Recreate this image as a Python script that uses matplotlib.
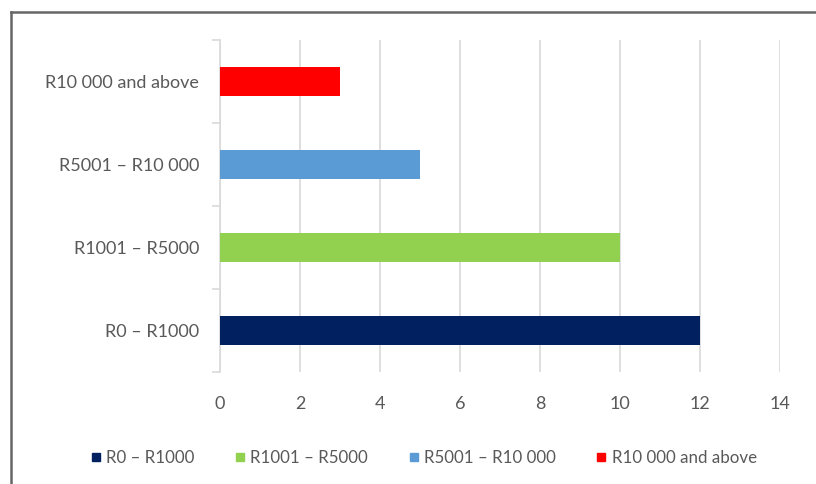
import matplotlib
matplotlib.use("Agg")
import matplotlib.pyplot as plt
from matplotlib.lines import Line2D

plt.rcParams["font.family"] = ["Lato", "DejaVu Sans"]

categories = ["R0 – R1000", "R1001 – R5000", "R5001 – R10 000", "R10 000 and above"]
values = [12, 10, 5, 3]
colors = ["#002060", "#92D050", "#5B9BD5", "#FF0000"]
xticks = [0, 2, 4, 6, 8, 10, 12, 14]

TEXT = "#595959"
GRID = "#D9D9D9"

fig = plt.figure(figsize=(8.16, 4.84), dpi=100)
ax = fig.add_axes([0.2696, 0.2314, 0.6862, 0.686])

ypos = list(range(len(categories)))
ax.barh(ypos, values, height=0.36, color=colors, zorder=3)

ax.set_xlim(0, 14)
ax.set_ylim(-0.5, len(categories) - 0.5)
ax.set_xticks(xticks)
ax.set_yticks(ypos)
ax.set_yticklabels(categories)
ax.set_yticks([i - 0.5 for i in range(len(categories) + 1)], minor=True)
ax.tick_params(axis="y", which="major", length=0, pad=15, labelsize=13, labelcolor=TEXT)
ax.tick_params(axis="y", which="minor", length=6, width=1.2, color=GRID)
ax.tick_params(axis="x", length=0, pad=17, labelsize=13, labelcolor=TEXT)
ax.grid(axis="x", color=GRID, lw=1.2, zorder=0)

for side in ("top", "right", "bottom"):
    ax.spines[side].set_visible(False)
ax.spines["left"].set_color(GRID)
ax.spines["left"].set_linewidth(1.2)

handles = [Line2D([], [], marker="s", ls="", color=c, markersize=6) for c in colors]
fig.legend(handles, categories, loc="center", bbox_to_anchor=(0.517, 0.054), ncol=4,
           frameon=False, fontsize=12.2, labelcolor=TEXT, handletextpad=0.1,
           columnspacing=2.2, handlelength=1.0)

# outer frame (left and top edges)
fig.add_artist(Line2D([0.0135, 0.0135], [0, 0.975], color="#666666", lw=1.8,
                      transform=fig.transFigure))
fig.add_artist(Line2D([0.0135, 1], [0.975, 0.975], color="#666666", lw=1.8,
                      transform=fig.transFigure))

fig.savefig("out.png", dpi=100)
